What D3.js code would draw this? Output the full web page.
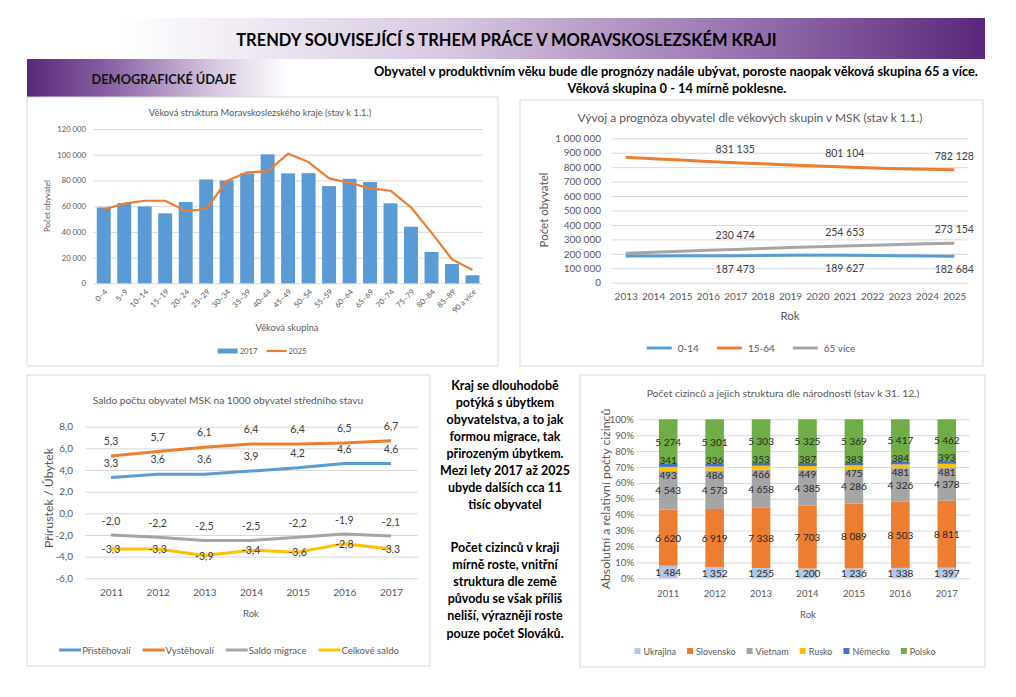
<!DOCTYPE html>
<html><head><meta charset="utf-8">
<script src="https://cdn.jsdelivr.net/npm/d3@7"></script>
<style>body{margin:0;background:#fff}svg{display:block;font-family:Lato,'Open Sans',sans-serif}</style>
</head><body><svg id="c" width="1016" height="697"></svg>
<script>
// ---------- DATA ----------
const ageGroups = ["0–4","5–9","10–14","15–19","20–24","25–29","30–34","35–39","40–44","45–49","50–54","55–59","60–64","65–69","70–74","75–79","80–84","85–89","90 a více"];
const pop2017 = [59000,62400,59800,54400,63200,80800,80000,85500,100300,85500,85700,75600,81300,78800,62200,44000,24400,15000,6200];
const pop2025 = [57500,61900,64200,64200,56200,57800,79500,86300,87000,100800,94300,81600,78200,73800,72000,59100,39400,18700,10400];
const ageTicks = [0,20000,40000,60000,80000,100000,120000];

const trendYears = [2013,2014,2015,2016,2017,2018,2019,2020,2021,2022,2023,2024,2025];
const age0_14 = [185000,185500,186500,187000,187473,188500,189500,189900,189627,188500,186500,184500,182684];
const age15_64 = [868000,859000,850000,840000,831135,823000,815000,808000,801104,794000,789000,785000,782128];
const age65 = [204000,211000,218000,224000,230474,237000,243000,249000,254653,260000,265000,269500,273154];
const trendLabelYears = [2017,2021,2025];
const trendTicks = [0,100000,200000,300000,400000,500000,600000,700000,800000,900000,1000000];

const saldoYears = [2011,2012,2013,2014,2015,2016,2017];
const pristehovali = [3.3,3.6,3.6,3.9,4.2,4.6,4.6];
const vystehovali = [5.3,5.7,6.1,6.4,6.4,6.5,6.7];
const saldoMigrace = [-2.0,-2.2,-2.5,-2.5,-2.2,-1.9,-2.1];
const celkoveSaldo = [-3.3,-3.3,-3.9,-3.4,-3.6,-2.8,-3.3];
const saldoTicks = [-6,-4,-2,0,2,4,6,8];

const foreignYears = [2011,2012,2013,2014,2015,2016,2017];
const nations = ["Ukrajina","Slovensko","Vietnam","Rusko","Německo","Polsko"];
const ukrajina = [1484,1352,1255,1200,1236,1338,1397];
const slovensko = [6620,6919,7338,7703,8089,8503,8811];
const vietnam = [4543,4573,4658,4385,4286,4326,4378];
const rusko = [493,486,466,449,475,481,481];
const nemecko = [341,336,353,387,383,384,393];
const polsko = [5274,5301,5303,5325,5369,5417,5462];
const pctTicks = [0,0.1,0.2,0.3,0.4,0.5,0.6,0.7,0.8,0.9,1];

// ---------- HELPERS ----------
const L = d3.formatLocale({decimal:",",thousands:" ",grouping:[3],currency:["",""],minus:"-"});
const fmtInt = L.format(",d"), fmt1 = L.format(".1f"), fmtPct = L.format(".0%");
const svg = d3.select("#c");
const GRID = "#d9d9d9", TXT = "#595959", LBL = "#404040";
const BLUE="#5b9bd5", ORANGE="#ed7d31", GRAY="#a5a5a5", YELLOW="#ffc000", GREEN="#70ad47", DBLUE="#4472c4", LBLUE="#b4c7e7";

function fitText(t, w){ const l=t.node().getComputedTextLength(); const fs=parseFloat(t.attr("font-size")); t.attr("font-size", fs*w/l); return fs*w/l; }
function styleAxis(g, fs){ g.attr("font-family",null).attr("font-size",fs); g.select(".domain").remove(); g.selectAll(".tick line").attr("stroke",GRID); g.selectAll(".tick text").attr("fill",TXT); }
function box(x,y,w,h){ svg.append("rect").attr("x",x).attr("y",y).attr("width",w).attr("height",h).attr("fill","#fff").attr("stroke","#d9d9d9").attr("stroke-width",1); }
function title(txt,cx,cy,w,fs){ const t=svg.append("text").attr("x",cx).attr("y",cy).attr("text-anchor","middle").attr("dominant-baseline","central").attr("fill",TXT).attr("font-size",fs||11).text(txt); fitText(t,w); return t; }
function vtitle(txt,cx,cy,w,fs){ const t=svg.append("text").attr("transform",`translate(${cx},${cy}) rotate(-90)`).attr("text-anchor","middle").attr("dominant-baseline","central").attr("fill",TXT).attr("font-size",fs||11).text(txt); fitText(t,w); return t; }
function legend(items,cx,cy,o){
  const grp=svg.append("g"); let x=0;
  items.forEach(it=>{
    const ig=grp.append("g").attr("transform",`translate(${x},0)`);
    if(it.type==="line") ig.append("line").attr("x1",0).attr("x2",o.sw).attr("stroke",it.color).attr("stroke-width",o.lw||3);
    else ig.append("rect").attr("x",0).attr("y",-o.rh/2).attr("width",o.sw).attr("height",o.rh).attr("fill",it.color);
    const t=ig.append("text").attr("x",o.sw+o.gap).attr("dominant-baseline","central").attr("font-size",o.fs).attr("fill",TXT).text(it.label);
    x+=o.sw+o.gap+t.node().getComputedTextLength()+o.itemGap;
  });
  x-=o.itemGap; grp.attr("transform",`translate(${cx-x/2},${cy})`);
}

// ---------- HEADER ----------
const defs=svg.append("defs");
const g1d=defs.append("linearGradient").attr("id","gTop");
[[0,"#ffffff"],[0.12,"#ffffff"],[0.45,"#d8c9e1"],[0.75,"#9874b0"],[1,"#5a287b"]].forEach(s=>g1d.append("stop").attr("offset",s[0]).attr("stop-color",s[1]));
const g2d=defs.append("linearGradient").attr("id","gSub");
[[0,"#5a287b"],[0.25,"#8a62a5"],[0.55,"#d5c5df"],[0.78,"#ffffff"],[1,"#ffffff"]].forEach(s=>g2d.append("stop").attr("offset",s[0]).attr("stop-color",s[1]));
svg.append("rect").attr("x",0).attr("y",18).attr("width",985).attr("height",41).attr("fill","url(#gTop)");
svg.append("rect").attr("x",27).attr("y",59).attr("width",335).attr("height",38).attr("fill","url(#gSub)");
const mt=svg.append("text").attr("x",506.5).attr("y",40).attr("text-anchor","middle").attr("dominant-baseline","central").attr("font-weight","bold").attr("font-size",16).attr("fill","#000").text("TRENDY SOUVISEJÍCÍ S TRHEM PRÁCE V MORAVSKOSLEZSKÉM KRAJI");
fitText(mt,541);
const dt=svg.append("text").attr("x",164).attr("y",79).attr("text-anchor","middle").attr("dominant-baseline","central").attr("font-weight","bold").attr("font-size",12).attr("fill","#111").text("DEMOGRAFICKÉ ÚDAJE");
fitText(dt,145);
const l1=svg.append("text").attr("x",676).attr("y",71).attr("text-anchor","middle").attr("dominant-baseline","central").attr("font-weight","bold").attr("font-size",12).attr("fill","#000").text("Obyvatel v produktivním věku bude dle prognózy nadále ubývat, poroste naopak věková skupina 65 a více.");
const hfs=fitText(l1,604);
svg.append("text").attr("x",677).attr("y",88).attr("text-anchor","middle").attr("dominant-baseline","central").attr("font-weight","bold").attr("font-size",hfs).attr("fill","#000").text("Věková skupina 0 - 14 mírně poklesne.");

// ---------- CHART 1 ----------
box(27,97,471,269);
title("Věková struktura Moravskoslezského kraje (stav k 1.1.)",260,112,223,9.5);
const x1=d3.scaleBand().domain(ageGroups).range([93.5,482.7]).paddingInner(0.32).paddingOuter(0.16);
const y1=d3.scaleLinear().domain([0,120000]).range([283.3,129]);
svg.append("g").attr("transform","translate(93.5,0)").call(d3.axisLeft(y1).tickValues(ageTicks).tickSize(-(482.7-93.5)).tickPadding(7.5).tickFormat(fmtInt)).call(g=>styleAxis(g,7.7));
svg.append("g").selectAll("rect").data(ageGroups).join("rect").attr("x",d=>x1(d)).attr("width",x1.bandwidth()).attr("y",(d,i)=>y1(pop2017[i])).attr("height",(d,i)=>y1(0)-y1(pop2017[i])).attr("fill",BLUE);
svg.append("path").attr("d",d3.line().x((d,i)=>x1(ageGroups[i])+x1.bandwidth()/2).y(d=>y1(d))(pop2025)).attr("fill","none").attr("stroke",ORANGE).attr("stroke-width",2.2).attr("stroke-linejoin","round");
svg.append("g").attr("transform","translate(0,283.3)").call(d3.axisBottom(x1).tickSize(0)).call(g=>{styleAxis(g,7.7);
  g.selectAll(".tick text").attr("y",0).attr("dy",null).attr("transform","translate(2,7) rotate(-45)").attr("text-anchor","end").attr("dominant-baseline","central");});
title("Věková skupina",287,327,63,8.5);
vtitle("Počet obyvatel",47,206,52,8);
legend([{label:"2017",color:BLUE,type:"rect"},{label:"2025",color:ORANGE,type:"line"}],262,351,{sw:20,rh:5,gap:2,itemGap:9,fs:7.7,lw:2.2});

// ---------- CHART 2 ----------
box(520,100,463,266);
title("Vývoj a prognóza obyvatel dle věkových skupin v MSK (stav k 1.1.)",750,117,345,11);
const x2=d3.scalePoint().domain(trendYears).range([612,968]).padding(0.5);
const y2=d3.scaleLinear().domain([0,1000000]).range([282.7,138.3]);
svg.append("g").attr("transform","translate(612,0)").call(d3.axisLeft(y2).tickValues(trendTicks).tickSize(-(968-612)).tickPadding(11).tickFormat(fmtInt)).call(g=>styleAxis(g,10));
svg.append("g").attr("transform","translate(0,282.7)").call(d3.axisBottom(x2).tickSize(0).tickPadding(10)).call(g=>styleAxis(g,10));
const trendSeries=[{v:age65,c:GRAY,dy:-14},{v:age0_14,c:BLUE,dy:13},{v:age15_64,c:ORANGE,dy:-14}];
trendSeries.forEach(s=>{
  svg.append("path").attr("d",d3.line().x((d,i)=>x2(trendYears[i])).y(d=>y2(d))(s.v)).attr("fill","none").attr("stroke",s.c).attr("stroke-width",3).attr("stroke-linejoin","round");
  svg.append("g").selectAll("text").data(trendLabelYears).join("text").attr("x",d=>x2(d)).attr("y",d=>y2(s.v[trendYears.indexOf(d)])+s.dy).attr("text-anchor","middle").attr("dominant-baseline","central").attr("font-size",10.5).attr("fill",LBL).text(d=>fmtInt(s.v[trendYears.indexOf(d)]));
});
title("Rok",790,315,19,11);
vtitle("Počet obyvatel",543,210,75,12);
legend([{label:"0-14",color:BLUE,type:"line"},{label:"15-64",color:ORANGE,type:"line"},{label:"65 více",color:GRAY,type:"line"}],751,348,{sw:25,gap:6,itemGap:18,fs:10,lw:3});

// ---------- CHART 3 ----------
box(27,375,403,291);
title("Saldo počtu obyvatel MSK na 1000 obyvatel středního stavu",228,400,271,10.5);
const x3=d3.scalePoint().domain(saldoYears).range([87.7,414.3]).padding(0.5);
const y3=d3.scaleLinear().domain([-6,8]).range([578.3,426.7]);
svg.append("g").attr("transform","translate(85,0)").call(d3.axisLeft(y3).tickValues(saldoTicks).tickSize(-(418-85)).tickPadding(12).tickFormat(fmt1)).call(g=>styleAxis(g,10));
svg.append("g").attr("transform","translate(0,578.3)").call(d3.axisBottom(x3).tickSize(0).tickPadding(11)).call(g=>styleAxis(g,10));
const saldoSeries=[{v:saldoMigrace,c:GRAY,dy:-14},{v:pristehovali,c:BLUE,dy:-15},{v:vystehovali,c:ORANGE,dy:-15},{v:celkoveSaldo,c:YELLOW,dy:0}];
saldoSeries.forEach(s=>{
  svg.append("path").attr("d",d3.line().x((d,i)=>x3(saldoYears[i])).y(d=>y3(d))(s.v)).attr("fill","none").attr("stroke",s.c).attr("stroke-width",3).attr("stroke-linejoin","round");
});
saldoSeries.forEach(s=>{
  svg.append("g").selectAll("text").data(s.v).join("text").attr("x",(d,i)=>x3(saldoYears[i])).attr("y",d=>y3(d)+s.dy).attr("text-anchor","middle").attr("dominant-baseline","central").attr("font-size",10.5).attr("fill",LBL).text(d=>fmt1(d));
});
title("Rok",251,613,16,10.5);
vtitle("Přírustek / Úbytek",48,498,100,12);
legend([{label:"Přistěhovalí",color:BLUE,type:"line"},{label:"Vystěhovalí",color:ORANGE,type:"line"},{label:"Saldo migrace",color:GRAY,type:"line"},{label:"Celkové saldo",color:YELLOW,type:"line"}],229,650,{sw:22,gap:1,itemGap:12,fs:9.5,lw:3});

// ---------- MIDDLE TEXT ----------
const para1=["Kraj se dlouhodobě","potýká s úbytkem","obyvatelstva, a to jak","formou migrace, tak","přirozeným úbytkem.","Mezi lety 2017 až 2025","ubyde dalších cca 11","tisíc obyvatel"];
const para2=["Počet cizinců v kraji","mírně roste, vnitřní","struktura dle země","původu se však příliš","neliší, výrazněji roste","pouze počet Slováků."];
const probe=svg.append("text").attr("font-weight","bold").attr("font-size",12).text("Mezi lety 2017 až 2025");
const mfs=fitText(probe,130); probe.remove();
para1.forEach((t,i)=>svg.append("text").attr("x",505).attr("y",385+i*17.1).attr("text-anchor","middle").attr("dominant-baseline","central").attr("font-weight","bold").attr("font-size",mfs).attr("fill","#000").text(t));
para2.forEach((t,i)=>svg.append("text").attr("x",505).attr("y",547+i*17.2).attr("text-anchor","middle").attr("dominant-baseline","central").attr("font-weight","bold").attr("font-size",mfs).attr("fill","#000").text(t));

// ---------- CHART 4 ----------
box(580,375,405,292);
title("Počet cizinců a jejich struktura dle národnosti (stav k 31. 12.)",783,393,273,10.5);
const x4=d3.scaleBand().domain(foreignYears).range([645,970]).paddingInner(0.6).paddingOuter(0.3);
const y4=d3.scaleLinear().domain([0,1]).range([578.3,419.3]);
svg.append("g").attr("transform","translate(637,0)").call(d3.axisLeft(y4).tickValues(pctTicks).tickSize(-(970-637)).tickPadding(3).tickFormat(fmtPct)).call(g=>styleAxis(g,9.5));
svg.append("g").attr("transform","translate(0,578.3)").call(d3.axisBottom(x4).tickSize(0).tickPadding(12)).call(g=>styleAxis(g,9.5));
const natValues={"Ukrajina":ukrajina,"Slovensko":slovensko,"Vietnam":vietnam,"Rusko":rusko,"Německo":nemecko,"Polsko":polsko};
const natColors={"Ukrajina":LBLUE,"Slovensko":ORANGE,"Vietnam":GRAY,"Rusko":YELLOW,"Německo":DBLUE,"Polsko":GREEN};
const natNudge={"Ukrajina":0,"Slovensko":0,"Vietnam":0,"Rusko":6,"Německo":-5,"Polsko":0};
const rows=foreignYears.map((yr,i)=>{const o={year:yr}; nations.forEach(n=>o[n]=natValues[n][i]); return o;});
const stacked=d3.stack().keys(nations).offset(d3.stackOffsetExpand)(rows);
stacked.forEach(s=>{
  svg.append("g").selectAll("rect").data(s).join("rect").attr("x",d=>x4(d.data.year)).attr("width",x4.bandwidth()).attr("y",d=>y4(d[1])).attr("height",d=>y4(d[0])-y4(d[1])).attr("fill",natColors[s.key]);
});
stacked.forEach(s=>{
  svg.append("g").selectAll("text").data(s).join("text").attr("x",d=>x4(d.data.year)+x4.bandwidth()/2).attr("y",d=>y4((d[0]+d[1])/2)+natNudge[s.key]).attr("text-anchor","middle").attr("dominant-baseline","central").attr("font-size",10).attr("fill","#262626").text(d=>fmtInt(d.data[s.key]));
});
title("Rok",808,614,16,10.5);
vtitle("Absolutní a relativní počty cizinců",605,499,181,11);
legend(nations.map(n=>({label:n,color:natColors[n],type:"rect"})),785,651,{sw:6,rh:6,gap:3,itemGap:11,fs:9});
</script></body></html>
